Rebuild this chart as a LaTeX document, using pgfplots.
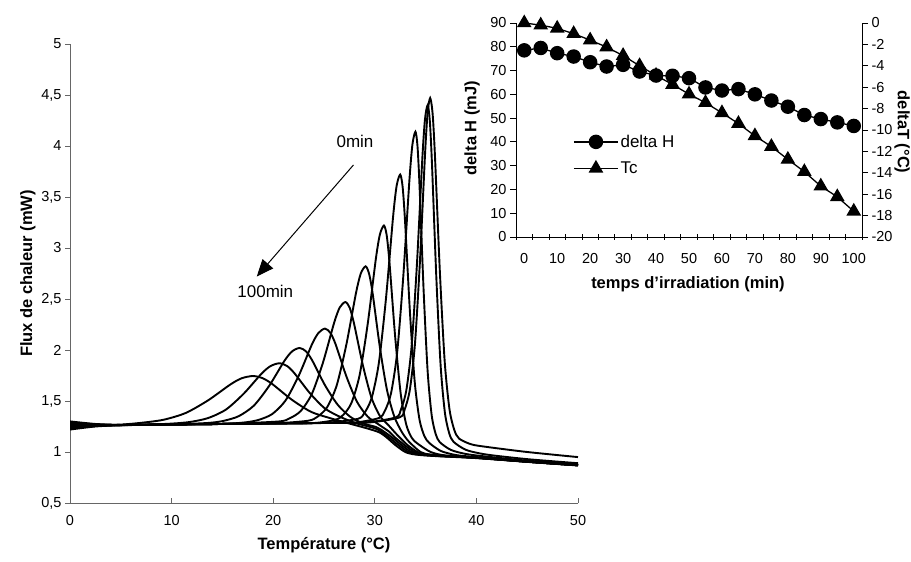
\documentclass[border=0pt]{standalone}
\usepackage{fontspec}
\setmainfont{Liberation Sans}
\usepackage{pgfplots}
\pgfplotsset{compat=1.18}
\usepackage{pgfplotstable}
\usetikzlibrary{arrows.meta}

% inset data: time (min), delta H (mJ), Tc shift (degC)
\pgfplotstableread{
t dH
0 78.5
5 79.5
10 77.3
15 75.9
20 73.5
25 71.7
30 72.4
35 69.6
40 67.9
45 67.8
50 66.8
55 62.9
60 61.6
65 62.2
70 60.0
75 57.4
80 54.8
85 51.3
90 49.6
95 48.2
100 46.7
}\dHdata
\pgfplotstableread{
t dT
0 0.0
5 -0.2
10 -0.5
15 -1.0
20 -1.6
25 -2.25
30 -3.05
35 -4.0
40 -4.9
45 -5.75
50 -6.65
55 -7.45
60 -8.4
65 -9.4
70 -10.55
75 -11.55
80 -12.75
85 -13.9
90 -15.25
95 -16.25
100 -17.6
}\Tcdata

\newcommand{\tickfont}{\fontsize{14.5bp}{17bp}\selectfont}
\newcommand{\labfont}{\fontsize{16.5bp}{19bp}\selectfont\bfseries}
\newcommand{\txtfont}{\fontsize{17bp}{20bp}\selectfont}

\begin{document}
\begin{tikzpicture}
\useasboundingbox (0,0) rectangle (911bp,562bp);

% ---- main DSC curves ----
\begin{axis}[
  at={(70bp,59bp)}, anchor=south west,
  scale only axis, width=508bp, height=459bp,
  xmin=0, xmax=50, ymin=0.5, ymax=5,
  axis lines=left, axis line style={-, black!60, line width=0.8bp},
  xtick={0,10,...,50}, ytick={0.5,1,...,5},
  xtick align=inside, ytick align=outside, major tick length=5bp,
  tick style={black!60, line width=0.8bp},
  tick label style={font=\tickfont},
  xticklabel style={yshift=-9bp},
  /pgf/number format/assume math mode=true,
  /pgf/number format/use comma,
  xlabel={Température (°C)}, ylabel={Flux de chaleur (mW)},
  label style={font=\labfont},
  xlabel style={at={(axis description cs:0.5,-0.092)}, anchor=center},
  ylabel style={at={(axis description cs:-0.083,0.5)}, anchor=center},
  every axis plot post/.append style={black, solid, line width=1.9bp, smooth, tension=0.45, mark=none},
]
% 100 min
\addplot coordinates {(0,1.29) (2.5,1.272) (4.8,1.268) (7.0,1.286) (9.2,1.316) (11.4,1.383) (13.6,1.507) (15.8,1.663) (16.9,1.723) (18.0,1.745) (18.95,1.724) (19.9,1.667) (21.8,1.515) (23.7,1.395) (25.6,1.332) (27.5,1.279) (29.4,1.227) (30.5,1.19) (31.2,1.14) (32,1.07) (33,1.0) (34,0.975) (36,0.96) (40,0.94) (45,0.905) (50,0.87)};
% 90 min
\addplot coordinates {(0,1.30) (2.5,1.275) (5,1.265) (7.5,1.268) (10.1,1.279) (11.85,1.295) (13.6,1.333) (15.35,1.416) (17.1,1.572) (18.85,1.768) (19.73,1.842) (20.6,1.87) (21.35,1.844) (22.1,1.771) (23.6,1.578) (25.1,1.426) (26.6,1.344) (28.1,1.284) (29.6,1.244) (30.3,1.22) (31.3,1.15) (32.3,1.07) (33.3,1.0) (34.3,0.975) (36.3,0.96) (40,0.945) (45,0.908) (50,0.872)};
% 80 min
\addplot coordinates {(0,1.28) (2.5,1.268) (5,1.264) (10,1.27) (13.6,1.285) (15.1,1.305) (16.6,1.351) (18.1,1.455) (19.6,1.648) (21.1,1.893) (21.85,1.986) (22.6,2.02) (23.225,1.987) (23.85,1.896) (25.1,1.654) (26.35,1.463) (27.6,1.344) (28.85,1.280) (30.1,1.246) (30.6,1.22) (31.6,1.15) (32.6,1.07) (33.6,1.0) (34.6,0.975) (36.6,0.96) (40,0.943) (45,0.905) (50,0.87)};
% 70 min
\addplot coordinates {(0,1.24) (2.5,1.258) (5,1.264) (10,1.27) (15,1.275) (17.3,1.291) (18.6,1.316) (19.9,1.372) (21.2,1.503) (22.5,1.745) (23.8,2.052) (24.45,2.167) (25.1,2.21) (25.625,2.168) (26.15,2.054) (27.2,1.742) (28.25,1.492) (29.3,1.347) (30.35,1.272) (31.4,1.20) (31.9,1.15) (32.9,1.07) (33.9,1.0) (34.9,0.975) (36.9,0.96) (40,0.942) (45,0.903) (50,0.868)};
% 60 min
\addplot coordinates {(0,1.23) (2.5,1.255) (5,1.264) (10,1.27) (15,1.275) (20.5,1.299) (21.6,1.329) (22.7,1.401) (23.8,1.568) (24.9,1.877) (26.0,2.268) (26.55,2.417) (27.1,2.47) (27.525,2.415) (27.95,2.262) (28.8,1.862) (29.65,1.539) (30.5,1.353) (31.35,1.262) (32.2,1.168) (33.2,1.07) (34.2,1.0) (35.2,0.975) (37.2,0.96) (40,0.945) (45,0.905) (50,0.87)};
% 50 min
\addplot coordinates {(0,1.25) (2.5,1.262) (5,1.265) (10,1.27) (15,1.275) (20,1.28) (23.4,1.306) (24.35,1.345) (25.3,1.438) (26.25,1.653) (27.2,2.053) (28.15,2.559) (28.625,2.751) (29.1,2.82) (29.45,2.742) (29.8,2.546) (30.5,2.026) (31.2,1.607) (31.9,1.353) (32.6,1.206) (33.3,1.108) (34.5,1.0) (35.5,0.975) (37.5,0.96) (40,0.945) (45,0.905) (50,0.87)};
% 40 min
\addplot coordinates {(0,1.22) (2.5,1.25) (5,1.262) (10,1.27) (15,1.275) (20,1.28) (24,1.284) (26.1,1.315) (26.9,1.364) (27.7,1.481) (28.5,1.751) (29.3,2.254) (30.1,2.891) (30.5,3.132) (30.9,3.22) (31.175,3.122) (31.45,2.851) (32.0,2.135) (32.55,1.571) (33.1,1.267) (33.65,1.137) (34.2,1.083) (35.5,1.0) (37,0.965) (40,0.945) (45,0.905) (50,0.87)};
% 30 min
\addplot coordinates {(0,1.23) (2.5,1.255) (5,1.263) (10,1.27) (15,1.275) (20,1.28) (25,1.285) (28.3,1.324) (29.0,1.386) (29.7,1.533) (30.4,1.873) (31.1,2.505) (31.8,3.307) (32.15,3.610) (32.5,3.72) (32.7375,3.600) (32.975,3.266) (33.45,2.385) (33.925,1.691) (34.4,1.317) (34.875,1.157) (35.35,1.09) (36.5,1.01) (38,0.97) (40,0.95) (45,0.91) (50,0.875)};
% 20 min
\addplot coordinates {(0,1.25) (2.5,1.26) (5,1.264) (10,1.27) (15,1.275) (20,1.28) (25,1.285) (28,1.288) (30.4,1.333) (31.0,1.405) (31.6,1.577) (32.2,1.975) (32.8,2.716) (33.4,3.655) (33.7,4.012) (34.0,4.14) (34.2,4.001) (34.4,3.615) (34.8,2.595) (35.2,1.792) (35.6,1.359) (36.0,1.174) (36.4,1.096) (37.5,1.02) (39,0.98) (41,0.955) (45,0.915) (50,0.88)};
% 10 min
\addplot coordinates {(0,1.26) (2.5,1.263) (5,1.265) (10,1.27) (15,1.275) (20,1.28) (25,1.285) (29,1.289) (32.05,1.339) (32.575,1.417) (33.1,1.604) (33.625,2.039) (34.15,2.847) (34.675,3.872) (34.9375,4.260) (35.2,4.40) (35.4125,4.249) (35.625,3.831) (36.05,2.725) (36.475,1.854) (36.9,1.385) (37.325,1.184) (37.75,1.10) (39,1.02) (41,0.975) (45,0.93) (50,0.89)};
% 0 min
\addplot coordinates {(0,1.27) (2.5,1.265) (5,1.265) (10,1.27) (15,1.275) (20,1.28) (25,1.285) (29.5,1.29) (32.45,1.340) (32.95,1.420) (33.45,1.611) (33.95,2.056) (34.45,2.882) (34.95,3.930) (35.2,4.327) (35.45,4.47) (35.69,4.317) (35.925,3.894) (36.4,2.775) (36.875,1.894) (37.35,1.419) (37.825,1.216) (38.3,1.131) (39.5,1.075) (41,1.05) (45,1.0) (50,0.95)};

\draw[-{Triangle[length=17bp,width=14bp]}, line width=1bp] (axis cs:27.9,3.814) -- (axis cs:18.38,2.72);
\node[font=\txtfont] at (axis cs:28.05,4.04) {0min};
\node[font=\txtfont] at (axis cs:19.22,2.57) {100min};
\end{axis}

% ---- inset: left axis (delta H) ----
\begin{axis}[
  at={(516bp,325bp)}, anchor=south west,
  scale only axis, width=346bp, height=214bp,
  xmin=-2.5, xmax=102.5, ymin=0, ymax=90,
  axis x line=bottom, axis y line=left, axis line style={-, black, line width=0.8bp},
  xtick={0,10,...,100}, ytick={0,10,...,90},
  xtick style={draw=none},
  ytick style={black, line width=0.8bp},
  tick align=outside, major tick length=6bp,
  tick label style={font=\tickfont},
  xticklabel style={yshift=-7bp},
  /pgf/number format/assume math mode=true,
  xlabel={temps d'irradiation (min)}, ylabel={delta H (mJ)},
  label style={font=\labfont},
  xlabel style={at={(axis description cs:0.497,-0.222)}, anchor=center},
  ylabel style={at={(axis description cs:-0.127,0.509)}, anchor=center},
  legend style={draw=none, fill=none, font=\txtfont, at={(rel axis cs:0.165,0.487)}, anchor=north west, row sep=9bp, inner sep=0pt},
  legend cell align=left,
  legend image code/.code={\draw[#1, mark repeat=2, mark phase=2] plot coordinates {(0bp,0bp) (22bp,0bp) (44bp,0bp)};},
]
\addplot[black, line width=1.3bp, mark=*, mark size=6.6bp] table[x=t, y=dH] {\dHdata};
\addlegendentry{delta H}
\addlegendimage{black, line width=1.3bp, mark=triangle*, mark size=7.2bp}
\addlegendentry{Tc}
\end{axis}

% ---- inset: right axis (delta T) and category tick marks ----
\begin{axis}[
  at={(516bp,325bp)}, anchor=south west,
  scale only axis, width=346bp, height=214bp,
  xmin=-2.5, xmax=102.5, ymin=-20, ymax=0,
  axis x line=bottom, axis y line=right, axis line style={-, black, line width=0.8bp},
  xtick={-2.5,2.5,...,102.5}, xticklabel=\empty,
  xtick align=center,
  ytick={-20,-18,...,0},
  tick style={black, line width=0.8bp},
  ytick align=outside, major tick length=6bp,
  tick label style={font=\tickfont},
  /pgf/number format/assume math mode=true,
  ylabel={deltaT (°C)},
  label style={font=\labfont},
  ylabel style={at={(axis description cs:1.116,0.49)}, anchor=center, rotate=180},
]
\addplot[black, line width=1.3bp, mark=triangle*, mark size=7.2bp] table[x=t, y=dT] {\Tcdata};
\end{axis}
\end{tikzpicture}
\end{document}
